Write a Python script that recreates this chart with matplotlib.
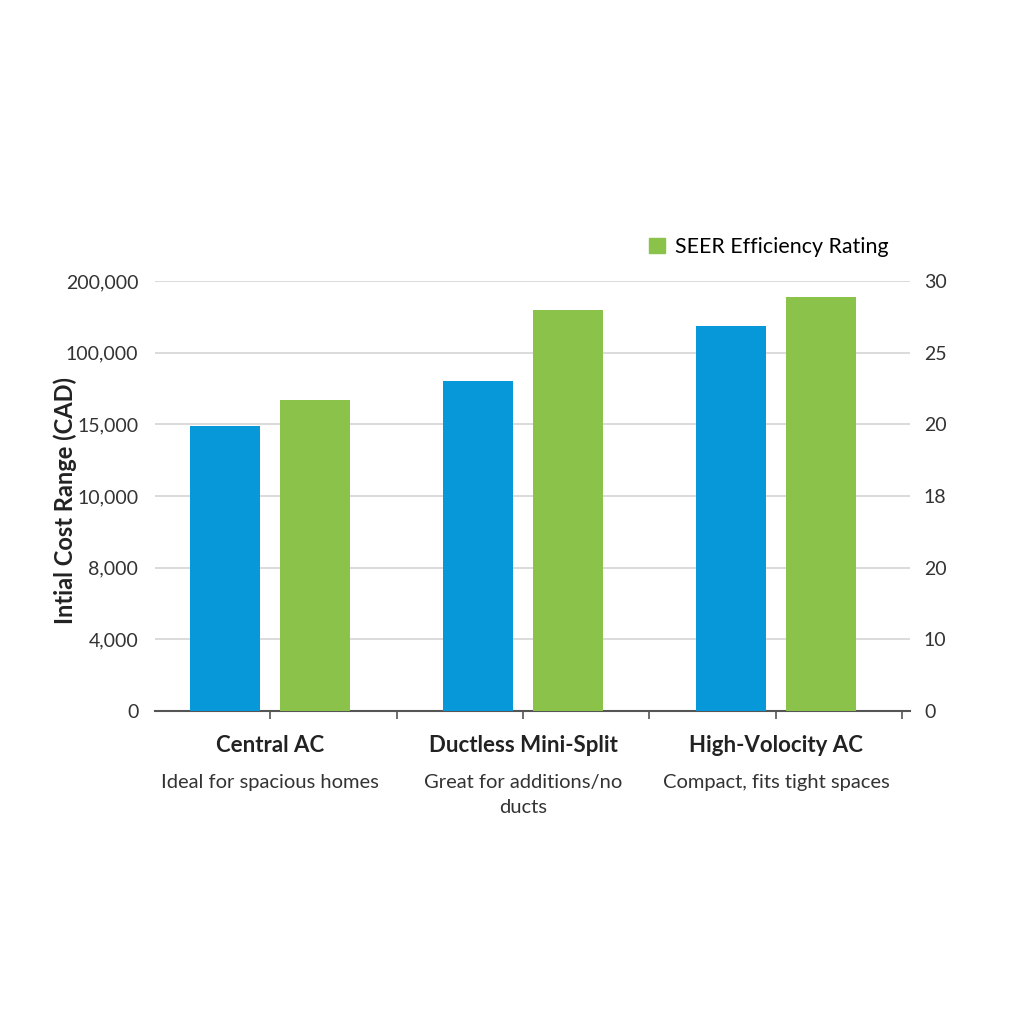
import matplotlib
matplotlib.use("Agg")
import matplotlib.pyplot as plt
import matplotlib.patches as mpatches
import matplotlib.transforms as mtrans

plt.rcParams['font.family'] = ['Lato', 'DejaVu Sans']

# data (bar heights in gridline steps, the axis labels are not linear)
categories = ["Central AC", "Ductless Mini-Split", "High-Volocity AC"]
subtitles = ["Ideal for spacious homes", "Great for additions/no\nducts", "Compact, fits tight spaces"]
cost_vals = [3.97, 4.60, 5.37]
seer_vals = [4.34, 5.59, 5.78]
left_labels = ["0", "4,000", "8,000", "10,000", "15,000", "100,000", "200,000"]
right_labels = ["0", "10", "20", "18", "20", "25", "30"]

blue = "#0698d8"
green = "#8bc34a"

fig = plt.figure(figsize=(10.24, 10.24), dpi=100)
fig.patch.set_facecolor("white")
ax = fig.add_axes([155/1024, 1-711/1024, 755/1024, 430/1024])

x = list(range(len(categories)))
w = 0.275
ax.bar([i - 0.178 for i in x], cost_vals, w, color=blue, zorder=3)
ax.bar([i + 0.178 for i in x], seer_vals, w, color=green, zorder=3)

ax.set_xlim(-0.455, 2.53)
ax.set_ylim(0, 6)
ax.set_yticks(range(len(left_labels)))
ax.set_yticklabels(left_labels, fontsize=14, color="#333333")
ax.tick_params(axis='y', length=0, pad=12)
ax.grid(axis='y', color="#d8d8d8", lw=1.3, zorder=0)

ax.set_xticks([0, 0.5, 1, 1.5, 2, 2.5])
ax.set_xticklabels([])
ax.tick_params(axis='x', length=6, color="#555555", width=1.2)

for s in ["top", "right", "left"]:
    ax.spines[s].set_visible(False)
ax.spines["bottom"].set_color("#555555")
ax.spines["bottom"].set_linewidth(1.5)

ax2 = ax.twinx()
ax2.set_ylim(0, 6)
ax2.set_yticks(range(len(right_labels)))
ax2.set_yticklabels(right_labels, fontsize=14, color="#333333")
ax2.tick_params(axis='y', length=0, pad=10)
for s in ax2.spines.values():
    s.set_visible(False)

ax.set_ylabel("Intial Cost Range (CAD)", fontsize=17, fontweight="bold", color="#222222")
ax.yaxis.set_label_coords(-0.103, 0.49)

trans = mtrans.blended_transform_factory(ax.transData, fig.transFigure)
for i, (c, s) in enumerate(zip(categories, subtitles)):
    ax.text(i, 1-745/1024, c, transform=trans, ha="center", va="center",
            fontsize=16, fontweight="bold", color="#222222")
    ax.text(i, 1-774/1024, s, transform=trans, ha="center", va="top",
            fontsize=14.5, color="#333333", linespacing=1.6)

handle = mpatches.Patch(color=green, label="SEER Efficiency Rating")
fig.legend(handles=[handle], loc="center left", bbox_to_anchor=(630/1024, 1-247/1024),
           frameon=False, fontsize=15.4, handlelength=0.75, handleheight=0.75,
           handletextpad=0.45)

fig.savefig("out.png", dpi=100, facecolor="white")
